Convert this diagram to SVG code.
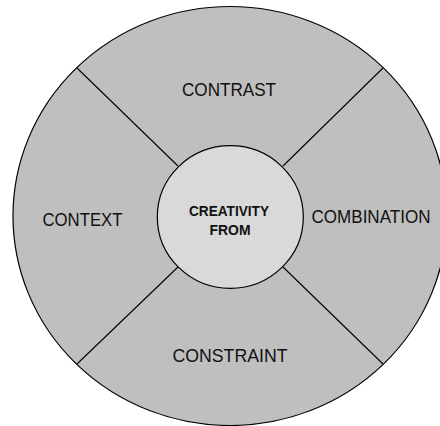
<svg xmlns="http://www.w3.org/2000/svg" width="440" height="426" viewBox="0 0 440 426">
<style>
.seg{fill:#bfbfbf;stroke:#000;stroke-width:1.2}
.hub{fill:#d9d9d9;stroke:#000;stroke-width:1.2}
.ln{stroke:#000;stroke-width:1.1;fill:none}
.lbl{font-family:"Liberation Sans",Arial,sans-serif;font-size:19px;fill:#111;text-anchor:middle}
.ctr{font-family:"Liberation Sans",Arial,sans-serif;font-size:15px;font-weight:bold;fill:#111;text-anchor:middle}
</style>
<rect width="440" height="426" fill="#fff"/>
<g id="outer"><ellipse class="seg" cx="230" cy="216" rx="217" ry="209.5"/></g>
<g id="connectors">
<line class="ln" x1="77" y1="68" x2="178" y2="166"/>
<line class="ln" x1="383" y1="68" x2="283" y2="166"/>
<line class="ln" x1="178" y1="267" x2="77" y2="364"/>
<line class="ln" x1="283" y1="267" x2="383" y2="364"/>
</g>
<g id="contrast"><text class="lbl" x="229" y="95.5" textLength="94" lengthAdjust="spacingAndGlyphs">CONTRAST</text></g>
<g id="context"><text class="lbl" x="82.5" y="225.5" textLength="80" lengthAdjust="spacingAndGlyphs">CONTEXT</text></g>
<g id="combination"><text class="lbl" x="371" y="222.5" textLength="119" lengthAdjust="spacingAndGlyphs">COMBINATION</text></g>
<g id="constraint"><text class="lbl" x="230" y="361.5" textLength="115" lengthAdjust="spacingAndGlyphs">CONSTRAINT</text></g>
<g id="center">
<ellipse class="hub" cx="230.3" cy="217" rx="73" ry="71.3"/>
<text class="ctr" x="229" y="216" textLength="80" lengthAdjust="spacingAndGlyphs">CREATIVITY</text>
<text class="ctr" x="230" y="234.5" textLength="41" lengthAdjust="spacingAndGlyphs">FROM</text>
</g>
</svg>
